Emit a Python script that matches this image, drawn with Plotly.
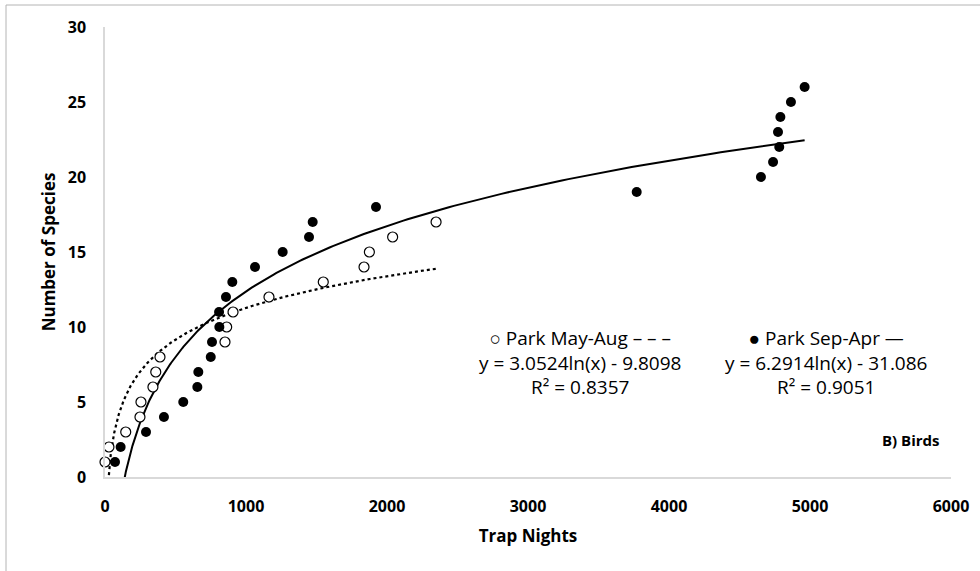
import numpy as np
import plotly.graph_objects as go

# Park May-Aug (open circles)
may_aug_x = [0, 28, 147, 248, 255, 340, 360, 390, 851, 863, 908, 1163, 1548, 1837, 1875, 2040, 2348]
may_aug_y = [1, 2, 3, 4, 5, 6, 7, 8, 9, 10, 11, 12, 13, 14, 15, 16, 17]

# Park Sep-Apr (filled circles)
sep_apr_x = [71, 111, 291, 418, 555, 655, 662, 750, 759, 811, 809, 858, 903, 1064, 1260,
             1447, 1473, 1922, 3771, 4652, 4738, 4782, 4773, 4790, 4865, 4962]
sep_apr_y = [1, 2, 3, 4, 5, 6, 7, 8, 9, 10, 11, 12, 13, 14, 15,
             16, 17, 18, 19, 20, 21, 22, 23, 24, 25, 26]

# Logarithmic trendline coefficients (from chart labels)
may_aug_a, may_aug_b, may_aug_r2 = 3.0524, -9.8098, 0.8357
sep_apr_a, sep_apr_b, sep_apr_r2 = 6.2914, -31.086, 0.9051

x_ticks = [0, 1000, 2000, 3000, 4000, 5000, 6000]
y_ticks = [0, 5, 10, 15, 20, 25, 30]

FONT = "Open Sans"

tx1 = np.geomspace(20, max(may_aug_x), 300)
ty1 = may_aug_a * np.log(tx1) + may_aug_b
tx2 = np.geomspace(min(sep_apr_x), max(sep_apr_x), 300)
ty2 = sep_apr_a * np.log(tx2) + sep_apr_b

fig = go.Figure()
fig.add_trace(go.Scatter(x=tx1, y=ty1, mode="lines",
                         line=dict(color="black", width=2.2, dash="dot"),
                         showlegend=False, hoverinfo="skip"))
fig.add_trace(go.Scatter(x=tx2, y=ty2, mode="lines",
                         line=dict(color="black", width=2),
                         showlegend=False, hoverinfo="skip"))
fig.add_trace(go.Scatter(x=may_aug_x, y=may_aug_y, mode="markers",
                         marker=dict(symbol="circle", size=10, color="white",
                                     line=dict(color="black", width=1.2)),
                         cliponaxis=False, showlegend=False))
fig.add_trace(go.Scatter(x=sep_apr_x, y=sep_apr_y, mode="markers",
                         marker=dict(symbol="circle", size=10, color="black",
                                     line=dict(color="black", width=0)),
                         cliponaxis=False, showlegend=False))

# outer chart border
L, R, T, B = 105, 951, 27, 477
W, H = R - L, B - T
def px_x(p):
    return (p - L) / W
def px_y(p):
    return (B - p) / H

fig.add_shape(type="rect", xref="paper", yref="paper",
              x0=px_x(6), x1=px_x(1000), y0=px_y(620), y1=px_y(5),
              line=dict(color="#b4b4b4", width=1), fillcolor="rgba(0,0,0,0)",
              layer="below")

txt_font = dict(family=FONT, size=19, color="black")
fig.add_annotation(xref="paper", yref="paper", x=px_x(580), y=px_y(363),
                   text=("○ Park May-Aug – – –<br>"
                         f"y = {may_aug_a}ln(x) - {abs(may_aug_b)}<br>"
                         f"R² = {may_aug_r2}"),
                   showarrow=False, align="center", font=txt_font,
                   xanchor="center", yanchor="middle")
fig.add_annotation(xref="paper", yref="paper", x=px_x(826), y=px_y(363),
                   text=("● Park Sep-Apr —<br>"
                         f"y = {sep_apr_a}ln(x) - {abs(sep_apr_b)}<br>"
                         f"R² = {sep_apr_r2}"),
                   showarrow=False, align="center", font=txt_font,
                   xanchor="center", yanchor="middle")
fig.add_annotation(xref="paper", yref="paper", x=px_x(941), y=px_y(440),
                   text="<b>B) Birds</b>", showarrow=False,
                   font=dict(family=FONT, size=15, color="black"),
                   xanchor="right", yanchor="middle")

axis_common = dict(showgrid=False, zeroline=False, showline=True,
                   linecolor="#d9d9d9", linewidth=1.5, ticks="",
                   tickfont=dict(family=FONT, size=16, color="black", weight="bold"))

fig.update_xaxes(range=[0, 6000], tickvals=x_ticks, ticktext=[str(v) for v in x_ticks],
                 ticklabelstandoff=14,
                 title=dict(text="<b>Trap Nights</b>", standoff=14,
                            font=dict(family=FONT, size=17, color="black")),
                 **axis_common)
fig.update_yaxes(range=[0, 30], tickvals=y_ticks, ticktext=[str(v) for v in y_ticks],
                 ticklabelstandoff=14,
                 title=dict(text="<b>Number of Species</b>", standoff=8,
                            font=dict(family=FONT, size=17, color="black")),
                 **axis_common)

fig.update_layout(width=980, height=571,
                  margin=dict(l=L, r=980 - R, t=T, b=571 - B),
                  plot_bgcolor="white", paper_bgcolor="white",
                  font=dict(family=FONT, color="black"))

fig.write_html("out.html")
